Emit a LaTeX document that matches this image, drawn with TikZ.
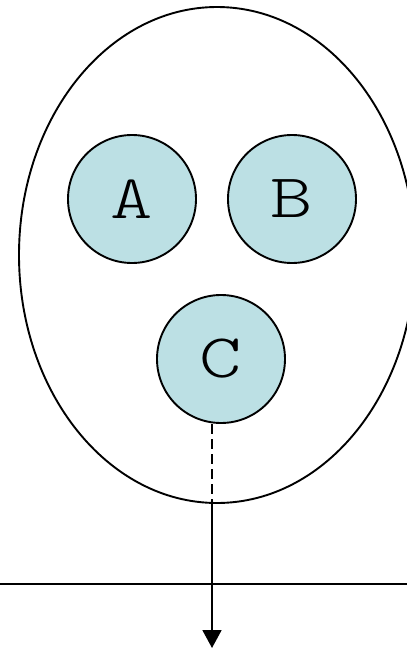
\documentclass[tikz,border=0pt]{standalone}
\usetikzlibrary{arrows.meta,shapes.geometric}
\definecolor{cfill}{RGB}{188,224,228}
\newcommand{\widetxt}[1]{\scalebox{1.3}[1]{#1}}
\begin{document}
\begin{tikzpicture}[x=1pt,y=-1pt,line width=1.9pt,
  ball/.style={circle,draw,fill=cfill,minimum size=128pt,inner sep=0pt,font=\ttfamily\fontseries{l}\fontsize{62}{62}\selectfont}]
\useasboundingbox (0,0) rectangle (407,648);
\begin{scope}
\clip (0,0) rectangle (407,648);
\node[draw,ellipse,minimum width=396pt,minimum height=496pt,inner sep=0pt] (E) at (217,255) {};
\end{scope}
\node[ball] (A) at (132,199) {\widetxt{A}};
\node[ball] (B) at (292,199) {\widetxt{B}};
\node[ball] (C) at (221,359) {\widetxt{C}};
\coordinate (Cb) at (212,424);
\coordinate (Eb) at (212,503);
\coordinate (tip) at (212,648);
\coordinate (L1) at (0,584);
\coordinate (L2) at (407,584);
\draw (L1) -- (L2);
\draw[dash pattern=on 10pt off 5pt] (Cb) -- (Eb);
\draw[-{Triangle[length=18pt,width=19pt]}] (Eb) -- (tip);
\end{tikzpicture}
\end{document}
